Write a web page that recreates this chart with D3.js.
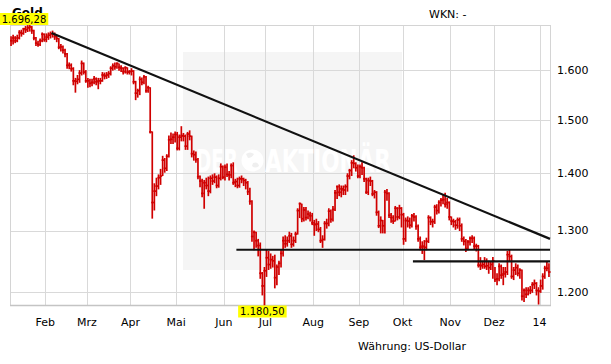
<!DOCTYPE html>
<meta charset="utf-8">
<script src="https://d3js.org/d3.v7.min.js"></script>
<style>
body { margin: 0; background: #fff; }
text { font-family: 'DejaVu Sans', Verdana, sans-serif; }
</style>
<svg width="611" height="364"></svg>
<script>
// daily gold bars, Jan 9 2013 .. Jan 7 2014 (weekdays)
var highs = [
  1672,1675,1672,1675,1685,1686,1690,1694,1696,1696.28,1694,1686,1670,1662,1667,1680,1678,            // Jan
  1678,1680,1682,1684,1680,1673,1668,1655,1652,1645,1636,1616,1614,1606,1584,1590,1600,1620,1616,1600, // Feb
  1584,1582,1582,1588,1585,1584,1584,1596,1595,1596,1598,1608,1614,1616,1616,1614,1610,1606,1608,1606,1600, // Mrz
  1604,1600,1578,1562,1587,1585,1590,1588,1568,1565,1478,1382,1392,1398,1408,1432,1428,1435,1470,1476,1474,1478, // Apr
  1477,1472,1488,1475,1472,1477,1480,1470,1442,1440,1428,1396,1390,1388,1392,1394,1396,1398,1400,1396,1398,1418,1414, // Mai
  1416,1418,1404,1418,1420,1390,1392,1394,1396,1392,1390,1386,1374,1352,1300,1298,1286,1280,1232,1240, // Jun
  1268,1266,1262,1258,1260,1244,1250,1268,1290,1292,1290,1298,1296,1290,1298,1338,1348,1346,1340,1340,1334,1332,1330, // Jul
  1318,1320,1316,1306,1292,1316,1320,1338,1336,1342,1370,1378,1380,1378,1378,1380,1400,1408,1424,1433,1420,1416, // Aug
  1416,1420,1412,1392,1392,1394,1388,1370,1368,1334,1324,1318,1370,1372,1366,1330,1326,1342,1340,1344,1340, // Sep
  1330,1322,1324,1322,1328,1330,1326,1310,1290,1282,1284,1288,1326,1324,1320,1344,1345,1352,1356,1362,1365,1356,1350, // Okt
  1324,1320,1318,1322,1322,1312,1290,1286,1284,1290,1292,1290,1278,1276,1256,1250,1256,1254,1250,1248,1256, // Nov
  1240,1230,1246,1244,1240,1240,1266,1268,1260,1240,1246,1244,1238,1236,1206,1208,1208,1210,1216,1220,1216,1208, // Dez
  1220,1230,1242,1248,1246 // Jan 14
];
var lows = [
  1652,1655,1658,1660,1666,1672,1676,1680,1682,1683,1678,1664,1652,1650,1652,1660,1661,
  1660,1665,1668,1670,1665,1660,1645,1640,1636,1628,1604,1603,1598,1570,1555,1572,1575,1590,1592,1575,
  1565,1566,1568,1572,1570,1562,1572,1577,1582,1583,1585,1590,1600,1602,1604,1600,1597,1592,1594,1592,1592,
  1590,1572,1540,1545,1550,1570,1572,1555,1555,1475,1321,1335,1360,1372,1380,1396,1402,1405,1430,1455,1455,1458,
  1443,1443,1460,1460,1444,1444,1462,1430,1424,1420,1390,1376,1358,1338,1372,1360,1365,1380,1383,1374,1375,1388,1390,
  1388,1394,1388,1392,1380,1376,1374,1375,1383,1378,1372,1362,1345,1282,1268,1272,1258,1222,1196,1180.5,
  1225,1236,1238,1240,1207,1212,1228,1240,1258,1272,1274,1280,1272,1274,1280,1294,1322,1315,1316,1318,1320,1316,1310,
  1292,1300,1298,1280,1272,1284,1304,1308,1314,1316,1334,1355,1360,1358,1362,1362,1368,1390,1396,1410,1404,1392,
  1392,1398,1385,1364,1362,1378,1360,1356,1326,1305,1296,1296,1296,1352,1322,1314,1312,1316,1318,1320,1306,
  1277,1282,1306,1304,1306,1316,1302,1282,1268,1262,1252,1268,1280,1310,1306,1312,1328,1330,1342,1346,1340,1338,1318,
  1310,1306,1302,1304,1300,1282,1276,1265,1268,1276,1280,1270,1266,1240,1236,1238,1238,1236,1230,1236,1222,
  1217,1212,1218,1222,1212,1224,1228,1250,1222,1220,1228,1226,1222,1188,1186,1192,1196,1198,1200,1206,1196,1182,
  1200,1205,1222,1234,1225
];
var closes = [
  1662,1668,1662,1668,1680,1678,1688,1686,1690,1692,1684,1668,1657,1654,1662,1676,1665,
  1670,1674,1677,1676,1671,1667,1648,1649,1642,1634,1610,1610,1603,1578,1577,1581,1594,1614,1596,1578,
  1578,1573,1575,1582,1576,1578,1578,1590,1588,1590,1593,1604,1609,1607,1614,1606,1604,1597,1605,1596,1597,
  1598,1576,1553,1558,1581,1575,1586,1558,1564,1477,1348,1368,1377,1392,1395,1424,1409,1431,1462,1463,1467,1472,
  1446,1467,1470,1469,1450,1473,1469,1436,1434,1425,1394,1386,1364,1383,1378,1368,1391,1386,1393,1378,1391,1412,1393,
  1411,1398,1397,1414,1383,1385,1378,1390,1390,1387,1383,1367,1350,1290,1297,1283,1275,1230,1210,1234,
  1255,1244,1252,1250,1223,1240,1246,1262,1283,1278,1283,1291,1277,1283,1294,1334,1346,1320,1335,1322,1328,1325,1313,
  1310,1311,1302,1283,1285,1312,1312,1333,1319,1336,1365,1376,1366,1372,1370,1376,1395,1405,1419,1418,1410,1395,
  1412,1410,1390,1366,1387,1386,1363,1366,1331,1308,1317,1308,1366,1364,1326,1322,1316,1338,1323,1338,1327,
  1286,1317,1316,1309,1325,1323,1307,1286,1272,1274,1272,1282,1322,1315,1315,1340,1334,1348,1352,1353,1345,1348,1323,
  1316,1315,1309,1318,1308,1286,1282,1270,1281,1287,1287,1274,1274,1243,1242,1244,1241,1242,1239,1244,1250,
  1220,1221,1241,1227,1229,1232,1260,1257,1225,1235,1239,1230,1235,1194,1203,1197,1203,1203,1212,1214,1203,1202,
  1210,1225,1238,1238,1232
];

var monthStarts = ["2013-02-01","2013-03-01","2013-04-01","2013-05-01","2013-06-03","2013-07-01",
                   "2013-08-01","2013-09-02","2013-10-01","2013-11-01","2013-12-02","2014-01-01"];
var monthLabels = ["Feb","Mrz","Apr","Mai","Jun","Jul","Aug","Sep","Okt","Nov","Dez","14"];
var yTicks = [1200, 1300, 1400, 1500, 1600];

// trend / support lines: start day, start value, end value
var trendLine = ["2013-02-06", 1679, 1286];
var support1 = ["2013-06-11", 1268, 1268];
var support2 = ["2013-10-08", 1249, 1249];

var fmtDay = d3.timeFormat("%Y-%m-%d");
var days = d3.timeDay.range(new Date(2013, 0, 9), new Date(2014, 0, 8))
  .filter(function(d) { return d.getDay() % 6 !== 0; })
  .map(fmtDay);

var de = d3.formatLocale({decimal: ",", thousands: ".", grouping: [3], currency: ["", ""]});

var svg = d3.select("svg"),
    pLeft = 10, pRight = 550, pTop = 25, pBottom = 305;

var x = d3.scaleBand().domain(days).range([pLeft, pRight]).padding(0);
var y = d3.scaleLog().domain([d3.min(lows), d3.max(highs)]).range([pBottom, pTop]);
var bw = x.bandwidth();

// watermark box
svg.append("rect")
  .attr("x", 183).attr("y", 52).attr("width", 219).attr("height", 218)
  .attr("fill", "#f5f5f5");

// grid
var grid = svg.append("g").attr("stroke", "#d9d9d9").attr("stroke-width", 1);
grid.selectAll(".gy").data(yTicks).enter().append("line")
  .attr("x1", pLeft).attr("x2", pRight)
  .attr("y1", function(d) { return Math.round(y(d)) + 0.5; })
  .attr("y2", function(d) { return Math.round(y(d)) + 0.5; });
grid.selectAll(".gx").data(monthStarts).enter().append("line")
  .attr("x1", function(d) { return Math.round(x(d)) + 0.5; })
  .attr("x2", function(d) { return Math.round(x(d)) + 0.5; })
  .attr("y1", pTop).attr("y2", pBottom);

// frame
svg.append("rect")
  .attr("x", pLeft + 0.5).attr("y", pTop + 0.5)
  .attr("width", pRight - pLeft).attr("height", pBottom - pTop)
  .attr("fill", "none").attr("stroke", "#d4d4d4");
svg.append("line")
  .attr("x1", pLeft).attr("x2", pRight + 1).attr("y1", pBottom + 0.5).attr("y2", pBottom + 0.5)
  .attr("stroke", "#c4c4c4").attr("stroke-width", 1.5);

// watermark text
var wm = svg.append("g").attr("fill", "#fff").attr("font-weight", "bold");
wm.append("text").attr("x", 196).attr("y", 172)
  .style("font-family", "'Liberation Sans Narrow', 'DejaVu Sans Condensed', sans-serif")
  .attr("font-size", 32).attr("textLength", 42).attr("lengthAdjust", "spacingAndGlyphs")
  .text("DER");
wm.append("circle").attr("cx", 252.5).attr("cy", 160.5).attr("r", 11);
wm.append("path").attr("fill", "#efefef")
  .attr("d", "M246,154 q4,-3 8,0 q-2,4 -6,4 z M253,163 q5,-2 6,3 q-4,3 -7,0 z");
wm.append("text").attr("x", 265).attr("y", 172)
  .style("font-family", "'Liberation Sans Narrow', 'DejaVu Sans Condensed', sans-serif")
  .attr("font-size", 32).attr("textLength", 126).attr("lengthAdjust", "spacingAndGlyphs")
  .text("AKTIONÄR");

// bars
var bars = svg.append("g").attr("stroke", "#d00000").attr("stroke-width", 1.7);
bars.selectAll(".hl").data(days).enter().append("line")
  .attr("x1", function(d) { return x(d) + bw / 2; })
  .attr("x2", function(d) { return x(d) + bw / 2; })
  .attr("y1", function(d, i) { return y(highs[i]); })
  .attr("y2", function(d, i) { return y(lows[i]) + 0.5; });
bars.selectAll(".cl").data(days).enter().append("line")
  .attr("x1", function(d) { return x(d); })
  .attr("x2", function(d) { return x(d) + bw + 0.6; })
  .attr("y1", function(d, i) { return y(closes[i]); })
  .attr("y2", function(d, i) { return y(closes[i]); });

// trend and support lines
var lines = svg.append("g").attr("stroke", "#111").attr("stroke-width", 2.2).attr("fill", "none");
[trendLine, support1, support2].forEach(function(l) {
  lines.append("line")
    .attr("x1", x(l[0])).attr("y1", y(l[1]))
    .attr("x2", pRight).attr("y2", y(l[2]));
});

// right axis labels
svg.append("g").selectAll("text").data(yTicks).enter().append("text")
  .attr("x", 557).attr("y", function(d) { return y(d); })
  .attr("dy", "0.36em").attr("font-size", 11)
  .text(function(d) { return de.format(",.0f")(d); });

// month labels
svg.append("g").selectAll("text").data(monthStarts).enter().append("text")
  .attr("x", function(d) { return x(d); }).attr("y", 326)
  .attr("text-anchor", "middle").attr("font-size", 11)
  .text(function(d, i) { return monthLabels[i]; });

// header / footer
svg.append("text").attr("x", 12).attr("y", 17).attr("font-size", 12).attr("font-weight", "bold").text("Gold");
svg.append("text").attr("x", 429).attr("y", 18).attr("font-size", 11).text("WKN: -");
svg.append("text").attr("x", 358).attr("y", 350).attr("font-size", 11).text("Währung: US-Dollar");

// max / min markers
var maxV = d3.max(highs), minV = d3.min(lows);
var minDay = days[lows.indexOf(minV)];
function marker(cx, ty, txt) {
  var g = svg.append("g");
  var t = g.append("text").attr("x", cx).attr("y", ty + 9.5)
    .attr("text-anchor", "middle").attr("font-size", 10).text(txt);
  var w = t.node().getComputedTextLength() + 4;
  g.insert("rect", "text").attr("x", cx - w / 2).attr("y", ty)
    .attr("width", w).attr("height", 12).attr("fill", "#ffff00");
}
marker(24, 13, de.format(",.2f")(maxV));
marker(x(minDay) - 1, 305.5, de.format(",.2f")(minV));
</script>
